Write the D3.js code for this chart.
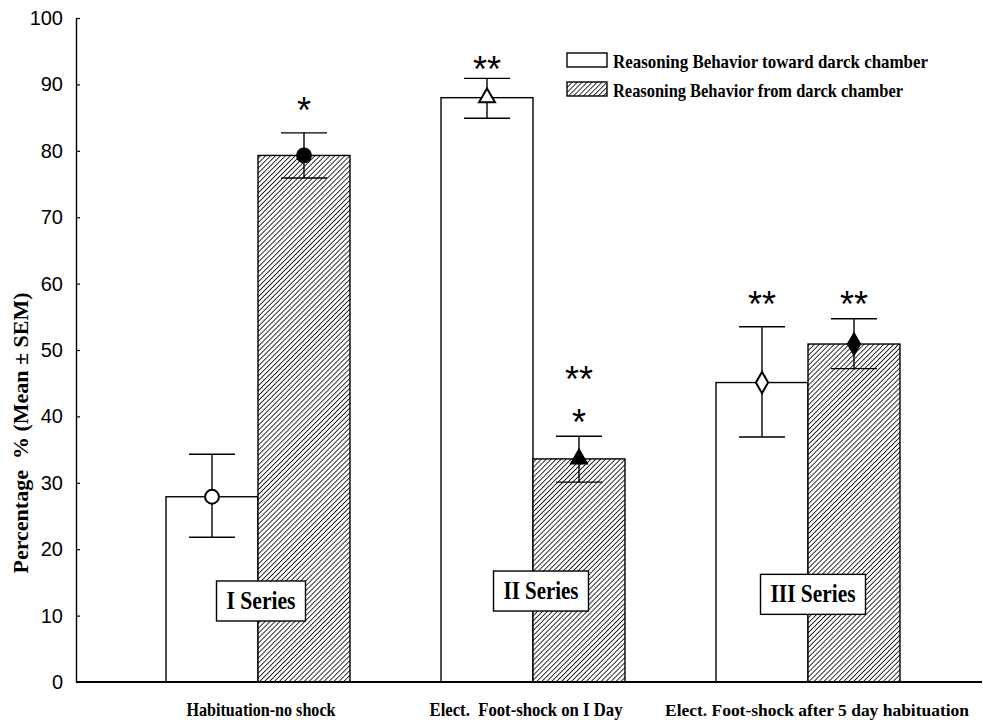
<!DOCTYPE html>
<html>
<head>
<meta charset="utf-8">
<script src="https://cdn.jsdelivr.net/npm/d3@7"></script>
<style>
  body { margin: 0; background: #fff; }
  svg { display: block; }
  .tick text { font-family: "Liberation Sans", Arial, sans-serif; font-size: 20px; fill: #000; }
</style>
</head>
<body>
<div id="chart"></div>
<script>
// groups on the x axis
var groups = ["Habituation-no shock", "Elect.  Foot-shock on I Day", "Elect. Foot-shock after 5 day habituation"];
var seriesNames = ["Reasoning Behavior toward darck chamber", "Reasoning Behavior from darck chamber"];
var seriesLabels = ["I Series", "II Series", "III Series"];

// mean and SEM bounds
var towardMean = [27.9, 88.0, 45.1];
var towardLow  = [21.8, 84.9, 36.9];
var towardHigh = [34.3, 90.9, 53.5];
var fromMean = [79.3, 33.6, 50.9];
var fromLow  = [75.9, 30.1, 47.2];
var fromHigh = [82.7, 37.0, 54.7];

// significance marks and the level they sit at
var towardStars = [[], [["**", 93.3]], [["**", 58.0]]];
var fromStars = [[["*", 87.2]], [["**", 46.7], ["*", 40.2]], [["**", 58.0]]];

var yTicks = [0, 10, 20, 30, 40, 50, 60, 70, 80, 90, 100];
var labelLevel = [12.2, 13.7, 13.2];

var W = 983, H = 723;
var svg = d3.select("#chart").append("svg").attr("width", W).attr("height", H);

var defs = svg.append("defs");
var pat = defs.append("pattern")
  .attr("id", "hatch")
  .attr("patternUnits", "userSpaceOnUse")
  .attr("width", 3.5).attr("height", 3.5)
  .attr("patternTransform", "rotate(45)");
pat.append("rect").attr("width", 3.5).attr("height", 3.5).attr("fill", "#fff");
pat.append("line").attr("x1", 0).attr("y1", 0).attr("x2", 0).attr("y2", 3.5)
  .attr("stroke", "#000").attr("stroke-width", 1.6);

var y = d3.scaleLinear().domain([0, 100]).range([682, 18]);
var x0 = d3.scaleBand().domain(groups).range([120.5, 945.5]).paddingInner(0.331).paddingOuter(0.1655);
var x1 = d3.scaleBand().domain(["toward", "from"]).range([0, x0.bandwidth()]);

var data = groups.map(function(g, i) {
  return [
    {g: g, key: "toward", mean: towardMean[i], lo: towardLow[i], hi: towardHigh[i], stars: towardStars[i], shape: i, filled: false},
    {g: g, key: "from", mean: fromMean[i], lo: fromLow[i], hi: fromHigh[i], stars: fromStars[i], shape: i, filled: true}
  ];
});
var flat = d3.merge(data);

// bars
svg.selectAll(".bar")
  .data(flat)
  .enter()
  .append("rect")
  .attr("class", "bar")
  .attr("x", function(d) { return x0(d.g) + x1(d.key); })
  .attr("y", function(d) { return y(d.mean); })
  .attr("width", x1.bandwidth())
  .attr("height", function(d) { return y(0) - y(d.mean); })
  .attr("fill", function(d) { return d.key == "from" ? "url(#hatch)" : "#fff"; })
  .attr("stroke", "#000")
  .attr("stroke-width", 1.4);

// axes
var yAxis = svg.append("g")
  .attr("transform", "translate(76,0)")
  .call(d3.axisLeft(y).tickValues(yTicks).tickSizeInner(-4).tickSizeOuter(0).tickPadding(13));
yAxis.select(".domain").attr("stroke", "#000").attr("stroke-width", 1.4);
yAxis.selectAll(".tick line").attr("stroke-width", 1.2);

svg.append("line")
  .attr("x1", 76).attr("x2", 982)
  .attr("y1", y(0)).attr("y2", y(0))
  .attr("stroke", "#000").attr("stroke-width", 2);

// error bars
var cap = 23;
var eb = svg.selectAll(".err").data(flat).enter().append("g").attr("class", "err")
  .attr("transform", function(d) { return "translate(" + (x0(d.g) + x1(d.key) + x1.bandwidth() / 2) + ",0)"; });
eb.append("line").attr("y1", function(d) { return y(d.lo); }).attr("y2", function(d) { return y(d.hi); })
  .attr("stroke", "#000").attr("stroke-width", 1.4);
eb.append("line").attr("x1", -cap).attr("x2", cap)
  .attr("y1", function(d) { return y(d.hi); }).attr("y2", function(d) { return y(d.hi); })
  .attr("stroke", "#000").attr("stroke-width", 1.4);
eb.append("line").attr("x1", -cap).attr("x2", cap)
  .attr("y1", function(d) { return y(d.lo); }).attr("y2", function(d) { return y(d.lo); })
  .attr("stroke", "#000").attr("stroke-width", 1.4);

// markers: circle, triangle, diamond
var shapes = [d3.symbolCircle, d3.symbolTriangle, d3.symbolDiamond];
var sizes = [150, 110, 130];
eb.append("path")
  .attr("d", function(d) { return d3.symbol().type(shapes[d.shape]).size(sizes[d.shape])(); })
  .attr("transform", function(d) { return "translate(0," + y(d.mean) + ")"; })
  .attr("fill", function(d) { return d.filled ? "#000" : "#fff"; })
  .attr("stroke", "#000").attr("stroke-width", 2);

// stars
eb.selectAll(".star").data(function(d) { return d.stars; }).enter().append("text")
  .attr("class", "star")
  .attr("text-anchor", "middle")
  .attr("y", function(s) { return y(s[1]) + 20; })
  .style("font-family", "Liberation Sans, Arial, sans-serif")
  .style("font-size", "36px")
  .text(function(s) { return s[0]; });

// series label boxes
var lab = svg.selectAll(".slab").data(groups).enter().append("g").attr("class", "slab")
  .attr("transform", function(g, i) { return "translate(" + (x0(g) + x0.bandwidth() / 2 + [3, 8, 5][i]) + "," + y(labelLevel[i]) + ")"; });
var labW = [69, 75, 85];
lab.append("rect")
  .attr("x", function(g, i) { return -labW[i] / 2 - 10; })
  .attr("y", -20).attr("height", 40)
  .attr("width", function(g, i) { return labW[i] + 20; })
  .attr("fill", "#fff").attr("stroke", "#000").attr("stroke-width", 1.4);
lab.append("text")
  .attr("text-anchor", "middle")
  .attr("y", 8)
  .attr("textLength", function(g, i) { return labW[i]; })
  .attr("lengthAdjust", "spacingAndGlyphs")
  .style("font-family", "Liberation Serif, Times New Roman, serif")
  .style("font-weight", "bold")
  .style("font-size", "25px")
  .text(function(g, i) { return seriesLabels[i]; });

// category labels
var catW = [149, 193, 304];
var catSize = [19, 19, 17];
svg.selectAll(".cat").data(groups).enter().append("text")
  .attr("class", "cat")
  .attr("x", function(g, i) { return x0(g) + x0.bandwidth() / 2 + [3, -7, 9][i]; })
  .attr("y", 716)
  .attr("text-anchor", "middle")
  .attr("textLength", function(g, i) { return catW[i]; })
  .attr("lengthAdjust", "spacingAndGlyphs")
  .style("font-family", "Liberation Serif, Times New Roman, serif")
  .style("font-weight", "bold")
  .style("font-size", function(g, i) { return catSize[i] + "px"; })
  .style("white-space", "pre")
  .text(function(g) { return g; });

// y title
svg.append("text")
  .attr("transform", "translate(28,433) rotate(-90)")
  .attr("text-anchor", "middle")
  .attr("textLength", 281)
  .attr("lengthAdjust", "spacingAndGlyphs")
  .style("font-family", "Liberation Serif, Times New Roman, serif")
  .style("font-weight", "bold")
  .style("font-size", "21px")
  .style("white-space", "pre")
  .text("Percentage  % (Mean \u00b1 SEM)");

// legend
var leg = svg.selectAll(".leg").data(seriesNames).enter().append("g").attr("class", "leg")
  .attr("transform", function(d, i) { return "translate(567," + (53 + i * 29) + ")"; });
leg.append("rect").attr("width", 40).attr("height", 14)
  .attr("fill", function(d, i) { return i ? "url(#hatch)" : "#fff"; })
  .attr("stroke", "#000").attr("stroke-width", 1.4);
leg.append("text").attr("x", 46).attr("y", 15)
  .attr("textLength", function(d, i) { return i ? 290 : 315; })
  .attr("lengthAdjust", "spacingAndGlyphs")
  .style("font-family", "Liberation Serif, Times New Roman, serif")
  .style("font-weight", "bold")
  .style("font-size", "19px")
  .text(function(d) { return d; });
</script>
</body>
</html>
